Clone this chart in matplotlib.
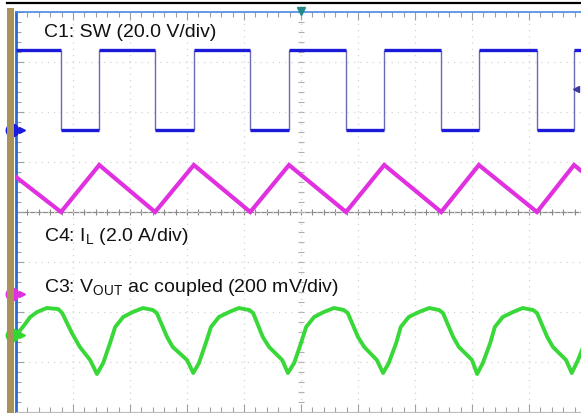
import numpy as np
import matplotlib
matplotlib.use('Agg')
import matplotlib.pyplot as plt
from matplotlib.lines import Line2D
from matplotlib.patches import Rectangle

plt.rcParams['font.family'] = ['Liberation Sans', 'DejaVu Sans']
plt.rcParams['mathtext.fontset'] = 'custom'
plt.rcParams['mathtext.rm'] = 'Liberation Sans'

# everything in screen divisions: 10 across, 8 down (centre = 0)
# C1: SW switch node, edges and the two levels
sw_edges = [0.0, 0.79, 1.46, 2.44, 3.12, 4.11, 4.79, 5.79, 6.46, 7.46, 8.12, 9.14, 9.79, 9.95]
sw_state = [1, 0, 1, 0, 1, 0, 1, 0, 1, 0, 1, 0, 1]
sw_high = 3.24
sw_low = 1.64

# C4: inductor current (triangle)
il_t = [0.0, 0.79, 1.46, 2.44, 3.12, 4.11, 4.79, 5.79, 6.46, 7.46, 8.12, 9.14, 9.79, 9.95]
il_v = [0.70, 0.0, 0.94, 0.0, 0.94, 0.0, 0.94, 0.0, 0.94, 0.0, 0.94, 0.0, 0.94, 0.79]

# C3: output ripple, ac coupled
vout_t = [0.00, 0.12, 0.25, 0.37, 0.54, 0.74, 0.81, 0.98, 1.12, 1.30, 1.42,
          1.53, 1.65, 1.74, 1.88, 2.05, 2.23, 2.40, 2.47, 2.65, 2.75, 3.00, 3.11,
          3.21, 3.33, 3.42, 3.56, 3.74, 3.91, 4.09, 4.16, 4.33, 4.44, 4.67, 4.77,
          4.88, 5.00, 5.09, 5.23, 5.40, 5.58, 5.75, 5.82, 6.00, 6.11, 6.33, 6.44,
          6.54, 6.67, 6.75, 6.89, 7.07, 7.25, 7.42, 7.49, 7.67, 7.77, 8.00, 8.09,
          8.19, 8.32, 8.40, 8.54, 8.72, 8.89, 9.07, 9.14, 9.32, 9.42, 9.65, 9.75,
          9.86, 9.95]
vout_v = [-2.46, -2.30, -2.10, -2.00, -1.92, -1.94, -2.02, -2.42, -2.70, -2.96, -3.24,
          -3.02, -2.62, -2.30, -2.10, -2.00, -1.92, -1.96, -2.02, -2.50, -2.70, -2.96, -3.22,
          -3.02, -2.62, -2.30, -2.10, -2.00, -1.92, -1.96, -2.02, -2.50, -2.70, -2.96, -3.22,
          -3.02, -2.62, -2.30, -2.10, -2.00, -1.92, -1.96, -2.02, -2.50, -2.70, -2.96, -3.22,
          -3.02, -2.62, -2.30, -2.10, -2.00, -1.92, -1.96, -2.02, -2.50, -2.70, -2.96, -3.24,
          -3.02, -2.62, -2.30, -2.10, -2.00, -1.92, -1.96, -2.02, -2.50, -2.70, -2.96, -3.22,
          -2.96, -2.70]

# channel ground markers (left side)
gnd_levels = [1.64, -1.64, -2.46]
gnd_colors = ['#1a1ae0', '#e030e0', '#30d830']

labels = ['C1: SW (20.0 V/div)',
          r'C4: I$_\mathregular{L}$ (2.0 A/div)',
          r'C3: V$_\mathregular{OUT}$ ac coupled (200 mV/div)']
label_y = [3.5, -0.58, -1.6]

W, H = 581, 413
fig = plt.figure(figsize=(W / 100, H / 100), dpi=100)
ax = fig.add_axes([16 / W, 1 / H, 570 / W, 400 / H])
ax.set_xlim(0, 10)
ax.set_ylim(-4, 4)

# graticule
ax.set_xticks(np.arange(0, 11, 1))
ax.set_yticks(np.arange(-4, 5, 1))
ax.set_xticks(np.arange(0, 10.01, 0.2), minor=True)
ax.set_yticks(np.arange(-4, 4.01, 0.2), minor=True)
ax.tick_params(which='both', direction='in', top=True, bottom=True, left=True, right=False,
               labelbottom=False, labelleft=False, color='#a0a0a0', width=0.8)
ax.tick_params(which='major', length=6)
ax.tick_params(which='minor', length=3.5)
ax.grid(True, which='major', ls=(0, (1, 4)), color='#d4d4d4', lw=0.9)
ax.spines['right'].set_visible(False)
ax.spines['top'].set_color('#4a8ae0')
ax.spines['top'].set_linewidth(1.2)
ax.spines['bottom'].set_color('#bbbbbb')
ax.spines['left'].set_color('#2a6ad8')
ax.spines['left'].set_linewidth(2.0)

# centre cross with small ticks
ax.axhline(0, color='#8a8a8a', lw=0.9, zorder=1)
ax.plot(np.arange(0, 10.01, 0.2), np.zeros(51), ls='none', marker='|', ms=5,
        color='#8a8a8a', mew=0.8, zorder=1)
ax.plot(np.full(41, 5.0), np.arange(-4, 4.01, 0.2), ls='none', marker='_', ms=5,
        color='#b0b0b0', mew=0.8, zorder=1)

# SW square wave: flat parts thick, edges thin
levels = [sw_high if s else sw_low for s in sw_state]
ax.hlines(levels, sw_edges[:-1], sw_edges[1:], color='#1a1ad8', lw=2.4, zorder=3)
ax.vlines(sw_edges[1:-1], sw_low, sw_high, color='#6a6ab8', lw=1.0, zorder=2)

ax.plot(il_t, il_v, color='#e030e0', lw=3.0, solid_joinstyle='miter', zorder=3)
ax.plot(vout_t, vout_v, color='#38d838', lw=2.8, zorder=3)

for lv, c in zip(gnd_levels, gnd_colors):
    ax.plot(-0.07, lv, marker='o', ms=9, color=c, clip_on=False, zorder=5)
    ax.plot(0.1, lv, marker='>', ms=4, color=c, clip_on=False, zorder=5)

# trigger markers
ax.plot(5.0, 4.02, marker='v', ms=6, color='#1f8a8a', clip_on=False, zorder=5)
ax.plot(9.83, 2.46, marker='<', ms=4, color='#3a3aa0', clip_on=False, zorder=5)

for txt, y in zip(labels, label_y):
    ax.text(0.49, y, txt, fontsize=14, va='baseline', ha='left', color='#111111', zorder=6)

# frame bits outside the graticule
fig.add_artist(Line2D([7 / W, 1], [1 - 2.5 / H, 1 - 2.5 / H], color='black', lw=1.6))
fig.add_artist(Rectangle((7 / W, 0), 7 / W, 1 - 8 / H, color='#a8925a', lw=0))

fig.savefig('out.png', dpi=100)
